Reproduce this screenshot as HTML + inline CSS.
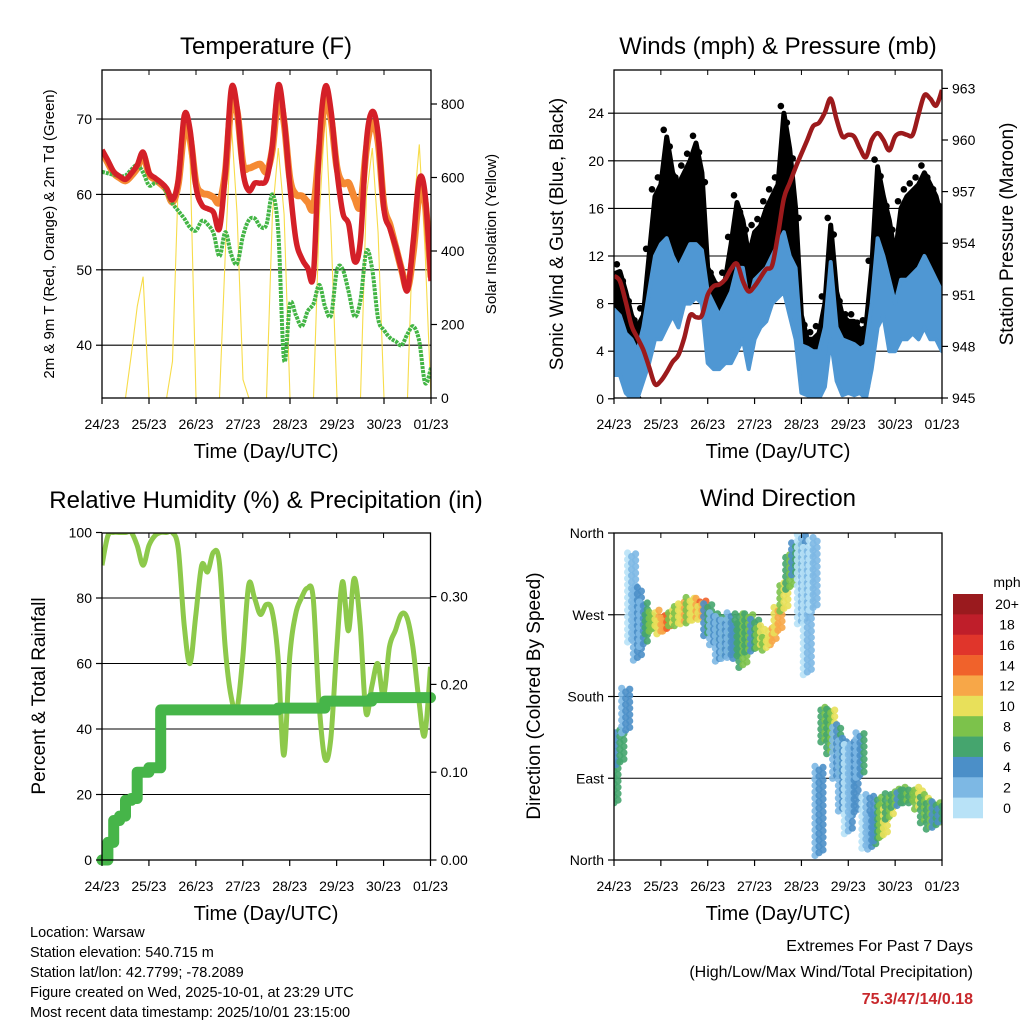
<!DOCTYPE html>
<html><head><meta charset="utf-8">
<style>
html,body{margin:0;padding:0;background:#fff;}
body{width:1024px;height:1024px;overflow:hidden;font-family:"Liberation Sans",sans-serif;}
svg text{font-family:"Liberation Sans",sans-serif;fill:#000;}
</style></head>
<body>
<svg id="fig" width="1024" height="1024" viewBox="0 0 1024 1024" xmlns="http://www.w3.org/2000/svg">
<defs>
<clipPath id="c1"><rect x="102" y="70" width="329" height="328"/></clipPath>
<clipPath id="c2"><rect x="614" y="70" width="328" height="328"/></clipPath>
<clipPath id="c3"><rect x="102" y="533" width="328.5" height="327"/></clipPath>
<clipPath id="c4"><rect x="614" y="533" width="328" height="327"/></clipPath>
</defs>
<g id="g1"></g>
<g id="g2"></g>
<g id="g3"></g>
<g id="g4"></g>
<g id="info">
<text x="30" y="937" font-size="14.5">Location: Warsaw</text>
<text x="30" y="957" font-size="14.5">Station elevation: 540.715 m</text>
<text x="30" y="977" font-size="14.5">Station lat/lon: 42.7799; -78.2089</text>
<text x="30" y="997" font-size="14.5">Figure created on Wed, 2025-10-01, at 23:29 UTC</text>
<text x="30" y="1017" font-size="14.5">Most recent data timestamp: 2025/10/01 23:15:00</text>
<text x="973" y="951" font-size="16" text-anchor="end">Extremes For Past 7 Days</text>
<text x="973" y="977" font-size="16" text-anchor="end">(High/Low/Max Wind/Total Precipitation)</text>
<text x="973" y="1004" font-size="16" font-weight="bold" text-anchor="end" style="fill:#c8282c">75.3/47/14/0.18</text>
</g>
</svg>
<script>
// ---- data (3-hour samples, hours since 24/23) ----
const dayLabels = ["24/23","25/23","26/23","27/23","28/23","29/23","30/23","01/23"];
const temp2m = [65.9,64.5,63.0,62.4,62.0,62.8,63.9,65.6,62.9,62.2,61.6,60.8,59.3,62,70.5,68.5,61,58.6,58.1,57.6,55.5,63,74,71.5,63,60.5,61.5,61.5,62,66.5,74.5,70,61,54,51.5,50.3,49.5,67,74.3,71,63,57.5,56,51.1,54,67,71,68,58,55.5,53,50,47.3,54,62,60,48.5];
const temp9m = [65.7,64.2,62.8,62.2,61.8,62.5,63.5,65.2,62.7,62.0,61.4,60.6,59.0,61.5,68.5,67.5,61.5,60.2,60,59.6,59,63,72,71,64,63.5,63.8,64,63,66,73,69.5,62,60,59.8,59,58.3,66,72.5,70,63.5,61.5,61.5,59.5,58.5,66,69.5,67,58.5,56,53,50,47.5,52.5,60,59,49];
const dewpoint = [63.0,62.8,62.6,62.4,62.5,63.3,63.9,62.9,61.2,61.5,61.6,60.2,58.8,57.8,56.8,55.6,55.2,56.5,56,54.8,51.8,55,52,50.8,54.5,56.6,56.8,55.7,56,60,55,38,45.5,44,42.5,44.5,45.5,48,45,44,50,50,47,43.8,46,52.5,50,43.5,42,41,40.5,40,41.5,42.5,40.5,35,37];
const solar = [0,0,0,0,0,120,250,330,0,0,0,0,100,600,750,650,0,0,0,0,0,400,750,500,50,0,0,0,0,500,680,500,0,0,0,0,0,500,780,450,0,0,0,0,0,550,680,450,0,0,0,0,0,500,690,400,0];
const gustHi = [10.5,10.7,9,7,6,7,12,17,18,22,19,18,19,20,21.5,19,11,10,9,10,13,16.5,15,12,14,14.5,16,17,18,24,21,16,7,5,5,5.5,8,14.6,9,7,6.5,6.5,5.8,6,11,19.5,17,15,12,16,17,17.5,18,19,18,17,15];
const gustLo = [6,7,3,0.5,0,3,5,8,10,11,10,10,11,11,11,11,5,4.5,5,4.5,5,7,7.5,5,8,8.5,9,10,11,12,10,7,2,1,1,1.5,3,7,3,1.5,2,1.5,2,1,5,9,8.5,6,7,10,10,10.5,10,11,10.5,10,9];
const windHi = [7.5,7,5.5,5,4,6,9,12,13,13.5,12,11,12,13,13,12.5,9,8,7,8,9,11,11,8,10,10.5,11,12,13,14,12,11,4.5,4.3,4,4,6,11.5,6,5,4.8,4.6,4.2,4.5,8,13.5,12,10,8,10,10,10.5,11,12,11,10,9];
const windLo = [2,2,0.5,0,0,1.5,3,5,5,6,7,6,8,8,8.5,8,3,2.5,2.5,3,3,4,5,2.5,5,6,6.5,8,8.5,9,7,5,0.5,0.3,0,0,1,5,1.5,0.3,0.5,0.3,0.5,0,2.5,6,7,4,4,5,5,5.5,5,6,5,5,4];
const pressure = [952.1,951.8,950.6,949.2,948.5,947.8,946.8,945.8,946.0,946.5,947.1,947.5,948.5,949.8,949.7,949.8,951.0,951.5,951.6,951.9,952.5,952.8,951.8,951.2,951.5,952.0,952.5,952.7,954.5,956.6,957.5,958.4,959.2,960.0,960.8,961.0,961.6,962.4,961.2,960.2,960.3,960.2,959.5,959.0,960.0,960.4,960.0,959.4,960.2,960.4,960.3,960.3,961.5,962.6,962.4,962.0,962.9];
const rh = [90,99,100,100,100,100,96,90,96,99,100,100,100,95,72,60,75,90,88,94,91,65,50,46,62,84,80,75,78,76,62,32,62,75,80,83,80,48,31,37,64,85,70,86,72,45,53,60,50,65,70,75,74,65,49,38,59];
const precip = [0,0.02,0.045,0.05,0.068,0.07,0.10,0.10,0.105,0.105,0.171,0.171,0.171,0.171,0.171,0.171,0.171,0.171,0.171,0.171,0.171,0.171,0.171,0.171,0.171,0.171,0.171,0.171,0.171,0.171,0.173,0.173,0.173,0.173,0.173,0.173,0.173,0.173,0.181,0.181,0.181,0.181,0.181,0.181,0.181,0.181,0.185,0.185,0.185,0.185,0.185,0.185,0.185,0.185,0.185,0.185,0.185];
const dirCenter = [85,125,165,290,260,260,261,265,259,262,268,270,272,275,276,275,265,255,244,244,248,242,242,251,248,246,239,248,264,290,318,332,310,274,315,55,150,142,120,94,79,90,116,43,32,46,43,59,68,70,71,71,68,57,50,50,52];
const dirSpread = [25,20,25,50,40,25,12,10,10,10,10,12,12,14,12,10,18,18,25,22,25,20,30,22,18,12,8,10,14,16,20,18,50,70,40,50,20,25,30,40,50,40,25,30,20,25,18,14,10,10,8,8,12,16,16,14,10];
const dirSpeed = [5,5,3,1,3,4,7,10,12,13,9,10,11,9,12,12,5,4,4,4,4,5,7,7,5,9,10,11,11,9,7,5,2,1,1,3,7,8,4,3,2,3,4,2,4,6,9,8,7,6,8,8,9,8,7,6,5];
const speedLabels = ["20+","18","16","14","12","10","8","6","4","2","0"];
const speedColors = ["#9a1a1e","#bf1e2a","#e0352b","#f0622b","#f7a748","#e8e05a","#7cc24b","#45a56e","#4b8fc8","#7db8e4","#b8e2f7"];
const tempTicks = [40,50,60,70];
const solarTicks = [0,200,400,600,800];
const windTicks = [0,4,8,12,16,20,24];
const presTicks = [945,948,951,954,957,960,963];
const rhTicks = [0,20,40,60,80,100];
const prTicks = [0,0.1,0.2,0.3];
const dirTicks = [0,90,180,270,360];
const dirNames = ["North","East","South","West","North"];
const STEP = 3;

const NS="http://www.w3.org/2000/svg";
function mk(parent,tag,attrs,txt){const e=document.createElementNS(NS,tag);for(const k in attrs)e.setAttribute(k,attrs[k]);if(txt!==undefined)e.textContent=txt;parent.appendChild(e);return e;}
function pts(arr,fx,fy){return arr.map((v,i)=>fx(i*STEP).toFixed(1)+","+fy(v).toFixed(1)).join(" ");}
function smooth(arr,fx,fy){
  const P=arr.map((v,i)=>[fx(i*STEP),fy(v)]);
  let d="M"+P[0][0].toFixed(1)+","+P[0][1].toFixed(1);
  for(let i=0;i<P.length-1;i++){
    const p0=P[Math.max(0,i-1)],p1=P[i],p2=P[i+1],p3=P[Math.min(P.length-1,i+2)];
    const c1=[p1[0]+(p2[0]-p0[0])/6,p1[1]+(p2[1]-p0[1])/6];
    const c2=[p2[0]-(p3[0]-p1[0])/6,p2[1]-(p3[1]-p1[1])/6];
    d+=" C"+c1.map(v=>v.toFixed(1)).join(",")+" "+c2.map(v=>v.toFixed(1)).join(",")+" "+p2[0].toFixed(1)+","+p2[1].toFixed(1);
  }
  return d;
}

function frame(g,L,T,W,H,xfn,cx,titleY,title){
  dayLabels.forEach((lab,i)=>{
    const x=xfn(i*24);
    const tk=mk(g,"line",{x1:x,x2:x,y1:T+H,y2:T+H+6,stroke:"#000","stroke-width":1.2});
    
    
    mk(g,"line",{x1:x,x2:x,y1:T,y2:T+5,stroke:"#000","stroke-width":1});
    const t=mk(g,"text",{x:x,y:T+H+31,"font-size":14,"text-anchor":"middle"},lab);
    
    
  });
  const xt=mk(g,"text",{x:cx,y:T+H+60,"font-size":20,"text-anchor":"middle"},"Time (Day/UTC)");
  
  
  const tt=mk(g,"text",{x:cx,y:titleY,"font-size":24,"text-anchor":"middle"},title);
  
  
}
function border(g,L,T,W,H){
  const b=mk(g,"rect",{x:L,y:T,width:W,height:H,fill:"none",stroke:"#000","stroke-width":1.3});
  
  
}
function grid(g,L,W,ys){ys.forEach(y=>{const l=mk(g,"line",{x1:L,x2:L+W,y1:y,y2:y,stroke:"#000","stroke-width":1.1});});}
function yTicks(g,x,ticks,fy,labels,side){
  ticks.forEach((v,i)=>{
    const y=fy(v);
    mk(g,"line",{x1:x,x2:side<0?x-6:x+6,y1:y,y2:y,stroke:"#000","stroke-width":1.2});
    const t=mk(g,"text",{x:side<0?x-10:x+10,y:y+5,"font-size":14,"text-anchor":side<0?"end":"start"},labels[i]);
    
    
  });
}

// ---------- Panel 1 ----------
(function(){
  const g=document.getElementById("g1");
  const L=102,T=70,W=329,H=328;
  const x=h=>L+h/168*W, yT=t=>398-(t-33.0)*7.54, yS=s=>398-s*0.3675;
  grid(g,L,W,tempTicks.map(yT));
  const c=mk(g,"g",{"clip-path":"url(#c1)"});
  const s=mk(c,"polyline",{points:pts(solar,x,yS),fill:"none",stroke:"#f7dc4a","stroke-width":1.1});
   
  const o=mk(c,"path",{d:smooth(temp9m,x,yT),fill:"none",stroke:"#f58a33","stroke-width":7,"stroke-linejoin":"round"});
   
  const d=mk(c,"path",{d:smooth(dewpoint,x,yT),fill:"none",stroke:"#43b545","stroke-width":4,"stroke-linejoin":"round","stroke-dasharray":"3 1"});
   
  const r=mk(c,"path",{d:smooth(temp2m,x,yT),fill:"none",stroke:"#d42028","stroke-width":5.5,"stroke-linejoin":"round"});
   
  border(g,L,T,W,H);
  yTicks(g,L,tempTicks,yT,tempTicks.map(String),-1);
  yTicks(g,L+W,solarTicks,yS,solarTicks.map(String),1);
  frame(g,L,T,W,H,x,266,54,"Temperature (F)");
  const a=mk(g,"text",{x:0,y:0,"font-size":15,"text-anchor":"middle",transform:"translate(54,234) rotate(-90)"},"2m & 9m T (Red, Orange) & 2m Td (Green)");
   
  const b=mk(g,"text",{x:0,y:0,"font-size":15,"text-anchor":"middle",transform:"translate(496,234) rotate(-90)"},"Solar Insolation (Yellow)");
   
})();

// ---------- Panel 2 ----------
(function(){
  const g=document.getElementById("g2");
  const L=614,T=70,W=328,H=328;
  const x=h=>L+h/168*W, yW=w=>398.8-w*11.9, yP=p=>398-(p-945)*17.2;
  grid(g,L,W,windTicks.slice(1).map(yW));
  const c=mk(g,"g",{"clip-path":"url(#c2)"});
  function band(hi,lo,color,sw,name){
    const top=hi.map((v,i)=>x(i*STEP).toFixed(1)+","+yW(v).toFixed(1));
    const bot=lo.map((v,i)=>x(i*STEP).toFixed(1)+","+yW(v).toFixed(1)).reverse();
    const p=mk(c,"polygon",{points:top.concat(bot).join(" "),fill:color,stroke:color,"stroke-width":sw,"stroke-linejoin":"round"});
     
  }
  band(gustHi,gustLo,"#000",5,"gust-dots");
  gustHi.forEach((v,i)=>{
    [-2,2].forEach(dx=>{
      const e=mk(c,"circle",{cx:x(i*STEP)+dx*1.5,cy:yW(v+(dx>0?-0.8:0.6)),r:3.3,fill:"#000"});
      
      
    });
    const f=mk(c,"circle",{cx:x(i*STEP)+1,cy:yW(gustLo[i]),r:3.3,fill:"#000"});
    
    
  });
  band(windHi,windLo,"#4f97d3",4,"wind-speed-band");
  const p=mk(c,"path",{d:smooth(pressure,x,yP),fill:"none",stroke:"#9c1a1c","stroke-width":4.5,"stroke-linejoin":"round"});
   
  border(g,L,T,W,H);
  yTicks(g,L,windTicks,yW,windTicks.map(String),-1);
  yTicks(g,L+W,presTicks,yP,presTicks.map(String),1);
  frame(g,L,T,W,H,x,778,54,"Winds (mph) & Pressure (mb)");
  const a=mk(g,"text",{x:0,y:0,"font-size":19,"text-anchor":"middle",transform:"translate(563,234) rotate(-90)"},"Sonic Wind & Gust (Blue, Black)");
   
  const b=mk(g,"text",{x:0,y:0,"font-size":19,"text-anchor":"middle",transform:"translate(1013,234) rotate(-90)"},"Station Pressure (Maroon)");
   
})();

// ---------- Panel 3 ----------
(function(){
  const g=document.getElementById("g3");
  const L=102,T=533,W=328.5,H=327;
  const x=h=>L+h/168*W, yR=r=>860-r*3.275, yPr=v=>860-v*878;
  grid(g,L,W,rhTicks.slice(1,5).map(yR));
  const c=mk(g,"g",{"clip-path":"url(#c3)"});
  const r=mk(c,"path",{d:smooth(rh,x,yR),fill:"none",stroke:"#8dc94b","stroke-width":5,"stroke-linejoin":"round"});
   
  let sp=[];precip.forEach((v,i)=>{if(i>0)sp.push(x(i*STEP).toFixed(1)+","+yPr(precip[i-1]).toFixed(1));sp.push(x(i*STEP).toFixed(1)+","+yPr(v).toFixed(1));});
  const p=mk(g,"polyline",{points:sp.join(" "),fill:"none",stroke:"#46b549","stroke-width":11,"stroke-linejoin":"round","stroke-linecap":"round"});
   
  border(g,L,T,W,H);
  yTicks(g,L,rhTicks,yR,rhTicks.map(String),-1);
  yTicks(g,L+W,prTicks,yPr,prTicks.map(v=>v.toFixed(2)),1);
  frame(g,L,T,W,H,x,266,508,"Relative Humidity (%) & Precipitation (in)");
  const a=mk(g,"text",{x:0,y:0,"font-size":19,"text-anchor":"middle",transform:"translate(45,696) rotate(-90)"},"Percent & Total Rainfall");
   
})();

// ---------- Panel 4 ----------
(function(){
  const g=document.getElementById("g4");
  const L=614,T=533,W=328,H=327;
  const x=h=>L+h/168*W, yD=d=>860-d*0.9083;
  grid(g,L,W,dirTicks.slice(1,4).map(yD));
  const c=mk(g,"g",{"clip-path":"url(#c4)"});
  function col(s){let k=10-Math.round(Math.min(s,20)/2);return speedColors[Math.max(0,Math.min(10,k))];}
  dirCenter.forEach((d,i)=>{
    const sp=dirSpread[i], s=dirSpeed[i];
    [-4,0,4].forEach((dx,j)=>{
      for(let v=d-sp+(j*3);v<=d+sp;v+=7){
        const e=mk(c,"circle",{cx:(x(i*STEP)+dx).toFixed(1),cy:yD(v).toFixed(1),r:3.6,fill:col(s+(j-1)*1.5),"fill-opacity":0.9});
        
        
      }
    });
  });
  border(g,L,T,W,H);
  yTicks(g,L,dirTicks,yD,dirNames,-1);
  frame(g,L,T,W,H,x,778,506,"Wind Direction");
  const a=mk(g,"text",{x:0,y:0,"font-size":19,"text-anchor":"middle",transform:"translate(540,696) rotate(-90)"},"Direction (Colored By Speed)");
   
  const cb=mk(g,"g",{});
   
  const bh=(818-594)/11;
  speedColors.forEach((cl,i)=>{
    const r=mk(cb,"rect",{x:953,y:594+i*bh,width:30,height:bh+0.3,fill:cl});
     
    const t=mk(cb,"text",{x:1007,y:594+i*bh+bh/2+5,"font-size":14,"text-anchor":"middle"},speedLabels[i]);
     
  });
  const m=mk(cb,"text",{x:1007,y:587,"font-size":14,"text-anchor":"middle"},"mph");
   
})();
</script>
</body></html>
